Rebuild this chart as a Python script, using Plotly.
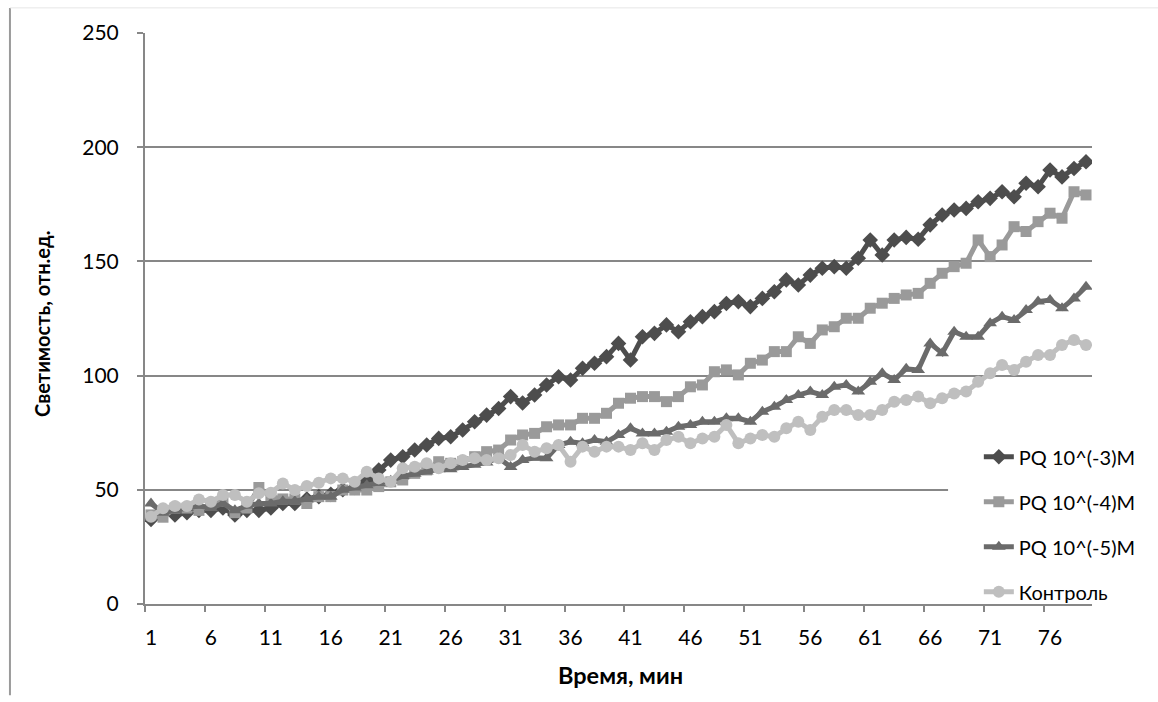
import plotly.graph_objects as go

# ---------------- data ----------------
minutes = list(range(1, 80))

pq3 = [37, 40, 39, 40, 41, 41, 42, 39, 41, 41, 42, 44, 44, 46, 47,
       48, 50, 51, 54, 58.7, 63, 64.5, 67.4, 69.6, 72.5, 73.2, 76.2, 79.8, 82.7, 85.6, 90.8,
       88, 91.5, 95.9, 99.5, 98.1, 103.2, 105.4, 108.3, 114.1, 106.8, 117, 118.5, 122.2, 119.2, 123.6, 125.8,
       128, 131.6, 132.4, 130.2, 133.8, 136.7, 141.9, 139.7, 144, 147, 147.7, 147, 151.4, 159.4, 152.8, 159.4,
       160.5, 159.7, 166, 170.3, 172.5, 173.2, 176.1, 177.6, 180.5, 178.3, 184.2, 182.7, 190, 187, 190.7, 193.6]

pq4 = [39, 38, 42, 42, 41, 44, 45, 40, 42, 51, 47, 46, 46, 44, 47,
       47, 49.9, 49.9, 49.9, 51.4, 53.5, 54.3, 57.2, 58.7, 62.3, 61.6, 62.3, 64.5, 66.7, 67.4, 71.8,
       74, 74.7, 77.6, 78.4, 78.4, 81.3, 81.3, 83.5, 87.9, 90.1, 90.8, 90.8, 88.6, 90.8, 95.1, 95.9,
       101.7, 102.5, 100.3, 105.4, 106.8, 110.5, 110.5, 117, 114.1, 120, 121.4, 125.1, 125.1, 129.5, 131.7, 133.8,
       135.3, 136, 140.4, 144.8, 147.7, 149.2, 159.4, 152.1, 157.2, 165.2, 163.1, 167.4, 171.1, 168.9, 180.5, 179.1]

pq5 = [44, 40, 41, 42, 43, 42, 44, 41, 43, 44, 44, 45, 45, 46, 47,
       47, 50, 51, 52, 53, 54, 56, 57, 58, 59, 59, 60, 61, 62, 64, 60,
       63, 64, 63.8, 69.6, 71, 70.4, 71.8, 71, 74, 76.9, 74.7, 74.7, 75.4, 77.6, 78.4, 79.8,
       79.8, 81.3, 81.3, 79.8, 84.2, 86.4, 89.3, 91.5, 93, 91.5, 95.1, 95.9, 93, 97.3, 101, 98.1,
       103, 102.5, 114.1, 109.8, 119.2, 117, 117, 122.9, 125.8, 124.3, 128.7, 132.4, 133.1, 129.5, 133.8, 138.9]

control = [38.2, 41.9, 42.9, 42.9, 45.8, 44.8, 47.7, 47.7, 44.8, 48.5, 48.7, 52.8, 49.9, 51.7, 53.1,
           55, 55, 53.5, 57.9, 55, 53.5, 59.4, 60.1, 61.6, 59.4, 61.6, 63, 63.8, 63, 63.8, 65.2,
           69.6, 66.7, 68.2, 69.6, 62.3, 68.9, 66.7, 68.9, 68.9, 67.4, 70.4, 67.4, 71.8, 73.2, 70.4, 72.5,
           73.2, 78.4, 70.4, 72.5, 74, 73.2, 76.9, 79.8, 76.2, 82, 84.9, 84.9, 82.7, 82.7, 84.9, 88.6,
           89.3, 90.8, 87.9, 90.1, 92.2, 93, 97.3, 101, 104.6, 102.5, 106.1, 109, 109, 113.4, 115.6, 113.4]

series_names = ["PQ 10^(-3)M", "PQ 10^(-4)M", "PQ 10^(-5)M", "Контроль"]
y_ticks = [0, 50, 100, 150, 200, 250]
x_label_minutes = minutes[::5]
x_title = "Время, мин"
y_title = "Светимость, отн.ед."

# ---------------- styles ----------------
FONT = "Lato, Carlito, 'Liberation Sans', sans-serif"
colors = ["#4d4d4d", "#9a9a9a", "#6b6b6b", "#bfbfbf"]
symbols = ["diamond", "square", "triangle-up", "circle"]
sizes = [12, 11, 12, 12]
grid = "#878787"

fig = go.Figure()
for name, vals, c, s, sz in zip(series_names, [pq3, pq4, pq5, control], colors, symbols, sizes):
    fig.add_trace(go.Scatter(
        x=minutes, y=vals, name=name, mode="lines+markers",
        line=dict(color=c, width=5),
        marker=dict(symbol=s, size=sz, color=c),
        legendgroup=name,
    ))

fig.update_layout(
    width=1158, height=702,
    margin=dict(l=145, r=66, t=33, b=98),
    paper_bgcolor="white", plot_bgcolor="white",
    font=dict(family=FONT, size=20, color="#000000"),
    showlegend=True,
    legend=dict(
        x=0.8805, y=0.292, xanchor="left", yanchor="top",
        bgcolor="rgba(0,0,0,0)", borderwidth=0,
        font=dict(family=FONT, size=20, color="#000000"),
        tracegroupgap=16,
    ),
    xaxis=dict(
        range=[0.5, len(minutes) + 0.5],
        tickmode="array",
        tickvals=[m - 0.5 for m in x_label_minutes],
        ticktext=[str(m) for m in x_label_minutes],
        ticklabelshift=6,
        ticks="outside", ticklen=6, tickwidth=2, tickcolor=grid,
        ticklabelstandoff=8,
        showgrid=False, zeroline=False,
        showline=True, linecolor=grid, linewidth=2,
        tickfont=dict(family=FONT, size=21),
    ),
    yaxis=dict(
        range=[0, 250],
        tickmode="array", tickvals=y_ticks,
        ticks="outside", ticklen=6, tickwidth=2, tickcolor=grid,
        ticklabelstandoff=14,
        showgrid=True, gridcolor=grid, gridwidth=2,
        zeroline=False,
        showline=True, linecolor=grid, linewidth=2,
        tickfont=dict(family=FONT, size=21),
    ),
    annotations=[
        dict(text=x_title, xref="paper", yref="paper", x=0.502, y=-0.1235,
             xanchor="center", yanchor="middle", showarrow=False,
             font=dict(family=FONT, size=23.5, weight="bold")),
        dict(text=y_title, xref="paper", yref="paper", x=-0.109, y=0.49,
             xanchor="center", yanchor="middle", textangle=-90, showarrow=False,
             font=dict(family=FONT, size=20, weight="bold")),
    ],
    shapes=[
        # white legend backing that interrupts the gridline
        dict(type="rect", xref="paper", yref="y", x0=0.848, x1=1.02, y0=2, y1=78,
             fillcolor="white", line=dict(width=0), layer="above"),
        # chart-area border (left and top)
        dict(type="line", xref="paper", yref="paper", x0=-0.1426, x1=-0.1426, y0=1.044, y1=-0.16,
             line=dict(color="#9a9a9a", width=2)),
        dict(type="line", xref="paper", yref="paper", x0=-0.1426, x1=1.07, y0=1.044, y1=1.044,
             line=dict(color="#e6e6e6", width=1)),
    ],
)

fig.write_html("out.html", config={"displayModeBar": False},
               post_script="document.body.style.margin='0';")
